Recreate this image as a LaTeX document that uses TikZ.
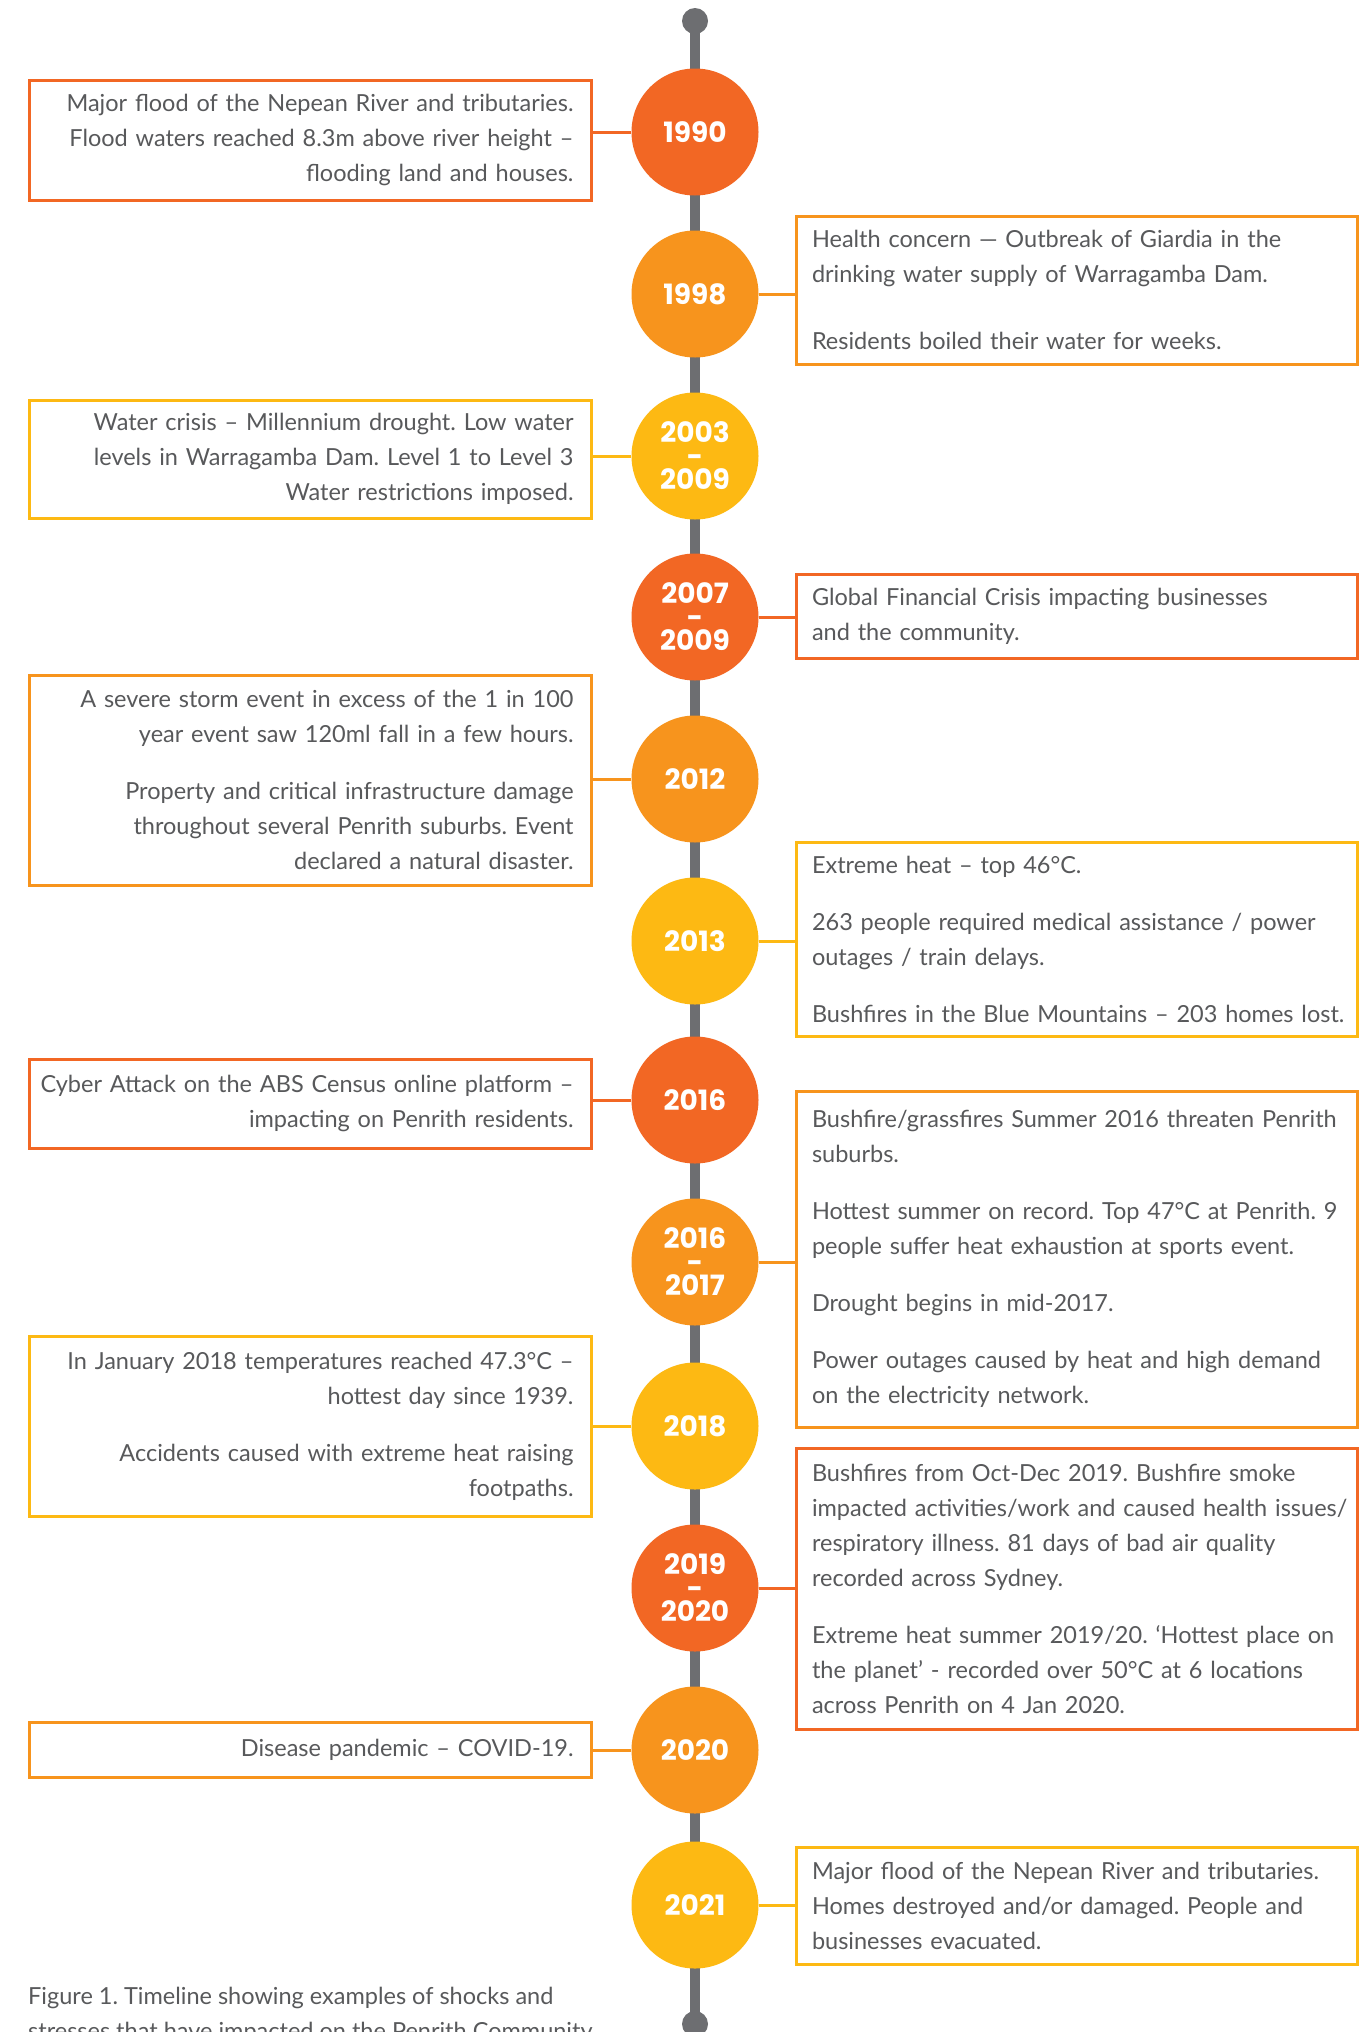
\documentclass[tikz,border=0pt]{standalone}
\usepackage{fontspec}
\setmainfont{Lato}
\newfontfamily\yearfont{Poppins}
\frenchspacing
\newcommand\fitL{\leftskip=0pt plus 1fil minus 500pt\relax}
\newcommand\fitR{\rightskip=0pt plus 1fil minus 500pt\relax}
\definecolor{cdark}{HTML}{F26724}
\definecolor{cmid}{HTML}{F7941D}
\definecolor{cyel}{HTML}{FDB913}
\definecolor{ctext}{HTML}{58595B}
\definecolor{caxis}{HTML}{6D6E71}
\tikzset{
  yr/.style={circle, fill=#1, minimum size=127pt, inner sep=0pt, text=white, align=center,
    font=\yearfont\bfseries\fontsize{28}{23.5}\selectfont},
  lbox/.style={draw=#1, line width=3pt, fill=white, text=ctext, align=right, text width=527pt,
    inner xsep=17.5pt, inner ysep=0pt, font=\fontsize{23.5}{35}\selectfont\frenchspacing},
  rbox/.style={draw=#1, line width=3pt, fill=white, text=ctext, align=left, text width=529pt,
    inner xsep=16pt, inner ysep=0pt, font=\fontsize{23.5}{35}\selectfont\frenchspacing},
  conn/.style={draw=#1, line width=3pt},
  enddot/.style={circle, fill=caxis, minimum size=26pt, inner sep=0pt},
  axis/.style={draw=caxis, line width=10pt},
  caption/.style={text=ctext, align=left, anchor=north west, inner sep=0pt,
    font=\fontsize{23.5}{35}\selectfont\frenchspacing}
}
\begin{document}
\begin{tikzpicture}[x=1pt,y=-1pt]
\useasboundingbox (0,0) rectangle (1370,2032);
\clip (0,0) rectangle (1370,2032);
\fill[white] (0,0) rectangle (1370,2032);
% axis
\node[enddot] (top) at (695,21) {};
\node[enddot] (bot) at (695,2024) {};
\draw[axis] (top.center) -- (bot.center);
% years
\node[yr=cdark] (y1990) at (695,132) {1990};
\node[yr=cmid]  (y1998) at (695,294) {1998};
\node[yr=cyel]  (y2003) at (695,456) {2003\\-\\2009};
\node[yr=cdark] (y2007) at (695,617) {2007\\-\\2009};
\node[yr=cmid]  (y2012) at (695,779) {2012};
\node[yr=cyel]  (y2013) at (695,941) {2013};
\node[yr=cdark] (y2016) at (695,1100) {2016};
\node[yr=cmid]  (y2017) at (695,1262) {2016\\-\\2017};
\node[yr=cyel]  (y2018) at (695,1426) {2018};
\node[yr=cdark] (y2019) at (695,1588) {2019\\-\\2020};
\node[yr=cmid]  (y2020) at (695,1750) {2020};
\node[yr=cyel]  (y2021) at (695,1905) {2021};
% left boxes
\node[lbox=cdark, minimum height=120pt] (b1990) at (310,140)
  {\fitL Major flood of the Nepean River and tributaries.\\ Flood waters reached 8.3m above river height –\\ flooding land and houses.\par};
\node[lbox=cyel, minimum height=118pt] (b2003) at (310,459)
  {\fitL Water crisis – Millennium drought. Low water\\ levels in Warragamba Dam. Level 1 to Level 3\\ Water restrictions imposed.\par};
\node[lbox=cmid, minimum height=210pt] (b2012) at (310,780)
  {\fitL A severe storm event in excess of the 1 in 100\\ year event saw 120ml fall in a few hours.\\[22pt] Property and critical infrastructure damage\\ throughout several Penrith suburbs. Event\\ declared a natural disaster.\par};
\node[lbox=cdark, minimum height=89pt] (b2016) at (310,1103.5)
  {\fitL Cyber Attack on the ABS Census online platform –\\ impacting on Penrith residents.\par};
\node[lbox=cyel, minimum height=180pt] (b2018) at (310,1426)
  {\fitL In January 2018 temperatures reached 47.3°C –\\ hottest day since 1939.\\[22pt] Accidents caused with extreme heat raising\\ footpaths.\par};
\node[lbox=cmid, minimum height=55pt] (b2020) at (310,1749.5)
  {\fitL Disease pandemic – COVID-19.\par};
% right boxes
\node[rbox=cmid, minimum height=148pt] (b1998) at (1076.5,290)
  {\fitR Health concern — Outbreak of Giardia in the\\ drinking water supply of Warragamba Dam.\\[32pt] Residents boiled their water for weeks.\par};
\node[rbox=cdark, minimum height=84pt] (b2007) at (1076.5,616)
  {\fitR Global Financial Crisis impacting businesses\\ and the community.\par};
\node[rbox=cyel, minimum height=194pt] (b2013) at (1076.5,939)
  {\fitR Extreme heat – top 46°C.\\[22pt] 263 people required medical assistance / power\\ outages / train delays.\\[22pt] Bushfires in the Blue Mountains – 203 homes lost.\par};
\node[rbox=cmid, minimum height=336pt] (b2017) at (1076.5,1259)
  {\fitR Bushfire/grassfires Summer 2016 threaten Penrith\\ suburbs.\\[22pt] Hottest summer on record. Top 47°C at Penrith. 9\\ people suffer heat exhaustion at sports event.\\[22pt] Drought begins in mid-2017.\\[22pt] Power outages caused by heat and high demand\\ on the electricity network.\par};
\node[rbox=cdark, minimum height=281pt] (b2019) at (1076.5,1588.5)
  {\fitR Bushfires from Oct-Dec 2019. Bushfire smoke\\ impacted activities/work and caused health issues/\\ respiratory illness. 81 days of bad air quality\\ recorded across Sydney.\\[22pt] Extreme heat summer 2019/20. ‘Hottest place on\\ the planet’ - recorded over 50°C at 6 locations\\ across Penrith on 4 Jan 2020.\par};
\node[rbox=cyel, minimum height=117pt] (b2021) at (1076.5,1905.5)
  {\fitR Major flood of the Nepean River and tributaries.\\ Homes destroyed and/or damaged. People and\\ businesses evacuated.\par};
% connectors
\draw[conn=cdark] (y1990) -- (y1990 -| b1990.east);
\draw[conn=cyel]  (y2003) -- (y2003 -| b2003.east);
\draw[conn=cmid]  (y2012) -- (y2012 -| b2012.east);
\draw[conn=cdark] (y2016) -- (y2016 -| b2016.east);
\draw[conn=cyel]  (y2018) -- (y2018 -| b2018.east);
\draw[conn=cmid]  (y2020) -- (y2020 -| b2020.east);
\draw[conn=cmid]  (y1998) -- (y1998 -| b1998.west);
\draw[conn=cdark] (y2007) -- (y2007 -| b2007.west);
\draw[conn=cyel]  (y2013) -- (y2013 -| b2013.west);
\draw[conn=cmid]  (y2017) -- (y2017 -| b2017.west);
\draw[conn=cdark] (y2019) -- (y2019 -| b2019.west);
\draw[conn=cyel]  (y2021) -- (y2021 -| b2021.west);
% caption
\node[caption] (cap) at (28,1987)
  {Figure 1. Timeline showing examples of shocks and\\ stresses that have impacted on the Penrith Community.};
\end{tikzpicture}
\end{document}
